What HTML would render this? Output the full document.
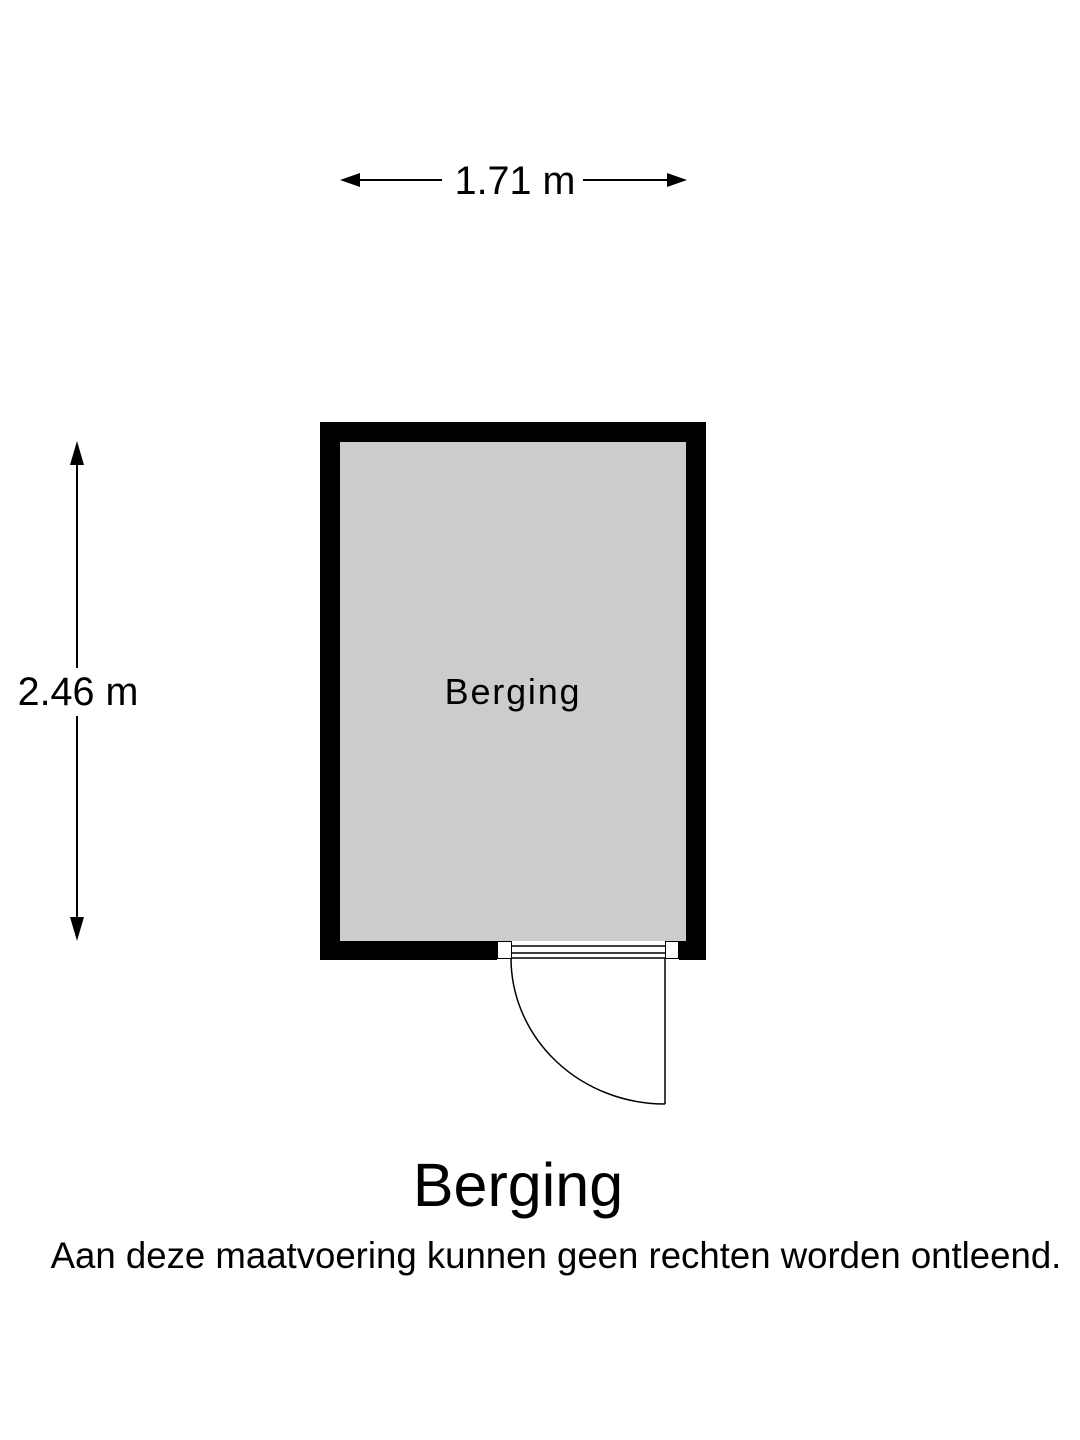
<!DOCTYPE html>
<html><head><style>body{margin:0;background:#fff}</style></head><body>
<svg width="1080" height="1440" xmlns="http://www.w3.org/2000/svg" style="display:block">
<rect width="1080" height="1440" fill="#fff"/>
<rect x="320" y="422" width="386" height="538" fill="#000"/>
<rect x="340" y="442" width="346" height="499" fill="#cccccc"/>
<rect x="497" y="941" width="182" height="19" fill="#fff"/>
<rect x="497.5" y="941.5" width="14" height="17" fill="#fff" stroke="#000" stroke-width="1"/>
<rect x="665.5" y="941.5" width="13" height="17" fill="#fff" stroke="#000" stroke-width="1"/>
<g stroke="#000" fill="none" stroke-width="1.5">
<line x1="511" y1="946" x2="665" y2="946"/>
<line x1="511" y1="953" x2="665" y2="953"/>
<line x1="511" y1="958" x2="665" y2="958"/>
<line x1="665" y1="958" x2="665" y2="1104"/>
<path d="M511 958 A154 146 0 0 0 665 1104"/>
</g>
<g stroke="#000" stroke-width="2">
<line x1="355" y1="180" x2="442" y2="180"/>
<line x1="583" y1="180" x2="672" y2="180"/>
<line x1="77" y1="460" x2="77" y2="668"/>
<line x1="77" y1="716" x2="77" y2="924"/>
</g>
<polygon points="340,180 360,173 360,187" fill="#000"/>
<polygon points="687,180 667,173 667,187" fill="#000"/>
<polygon points="77,441 70,465 84,465" fill="#000"/>
<polygon points="77,941 70,917 84,917" fill="#000"/>
<g font-family="Liberation Sans, sans-serif" fill="#000">
<text x="515" y="194" font-size="39.5" text-anchor="middle">1.71 m</text>
<text x="78" y="705" font-size="39.5" text-anchor="middle">2.46 m</text>
<text x="513" y="704" font-size="36" text-anchor="middle" letter-spacing="1.8">Berging</text>
<text x="518" y="1206" font-size="61" text-anchor="middle">Berging</text>
<text x="556" y="1268" font-size="36.6" text-anchor="middle">Aan deze maatvoering kunnen geen rechten worden ontleend.</text>
</g>
</svg>
</body></html>
